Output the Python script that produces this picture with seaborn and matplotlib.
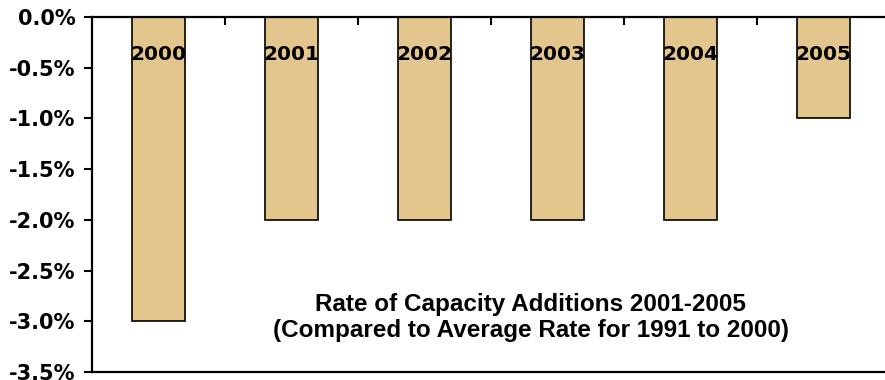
import matplotlib
matplotlib.use("Agg")
import matplotlib.pyplot as plt
import seaborn as sns
import pandas as pd
from matplotlib.ticker import FuncFormatter, FixedLocator

# Change in capacity-addition rate vs. the 1991-2000 average (percentage points)
years = ["2000", "2001", "2002", "2003", "2004", "2005"]
change_pct = [-3.0, -2.0, -2.0, -2.0, -2.0, -1.0]
y_ticks = [0.0, -0.5, -1.0, -1.5, -2.0, -2.5, -3.0, -3.5]
note_lines = ["Rate of Capacity Additions 2001-2005",
              "(Compared to Average Rate for 1991 to 2000)"]

bar_color = "#E3C68D"

sns.set_theme(style="white")
plt.rcParams["font.family"] = ["DejaVu Sans"]
plt.rcParams["font.weight"] = "bold"

df = pd.DataFrame({"year": years, "change": change_pct})

fig = plt.figure(figsize=(8.85, 3.8), dpi=100)
ax = fig.add_axes([92 / 885, 1 - 372 / 380, 798 / 885, 355 / 380])

sns.barplot(data=df, x="year", y="change", order=years, color=bar_color,
            saturation=1, width=0.4, edgecolor="black", linewidth=1.2, ax=ax)

ax.set_xlim(-0.5, len(years) - 0.5)
ax.set_ylim(-3.5, 0.0)

# y axis: percent labels, ticks pointing out
ax.yaxis.set_major_locator(FixedLocator(y_ticks))
ax.yaxis.set_major_formatter(FuncFormatter(lambda v, _: "0.0%" if abs(v) < 1e-9 else f"{v:.1f}%"))
ax.tick_params(axis="y", direction="out", length=6, width=1.5, pad=6,
               labelsize=15, colors="black", left=True)
for lbl in ax.get_yticklabels():
    lbl.set_fontweight("bold")

# category axis sits at zero (top), with ticks between categories
ax.set_xticks([i + 0.5 for i in range(len(years) - 1)])
ax.set_xticklabels([])
ax.tick_params(axis="x", which="major", direction="in", length=6, width=1.5,
               top=True, bottom=False, labeltop=False, labelbottom=False,
               colors="black")
ax.set_xlabel("")
ax.set_ylabel("")

for side in ["top", "bottom", "left", "right"]:
    ax.spines[side].set_visible(True)
    ax.spines[side].set_color("black")
    ax.spines[side].set_linewidth(1.6)

# year labels near the top of each bar
for i, yr in enumerate(years):
    ax.text(i, -0.423, yr, ha="center", va="baseline", fontsize=14.5,
            fontweight="bold", color="black")

note_font = ["Liberation Sans", "DejaVu Sans"]
ax.text(2.8, -2.90, note_lines[0], ha="center", va="baseline",
        fontsize=17.5, fontweight="bold", color="black", family=note_font)
ax.text(2.8, -3.156, note_lines[1], ha="center", va="baseline",
        fontsize=17.5, fontweight="bold", color="black", family=note_font)

fig.savefig("out.png", dpi=100)
